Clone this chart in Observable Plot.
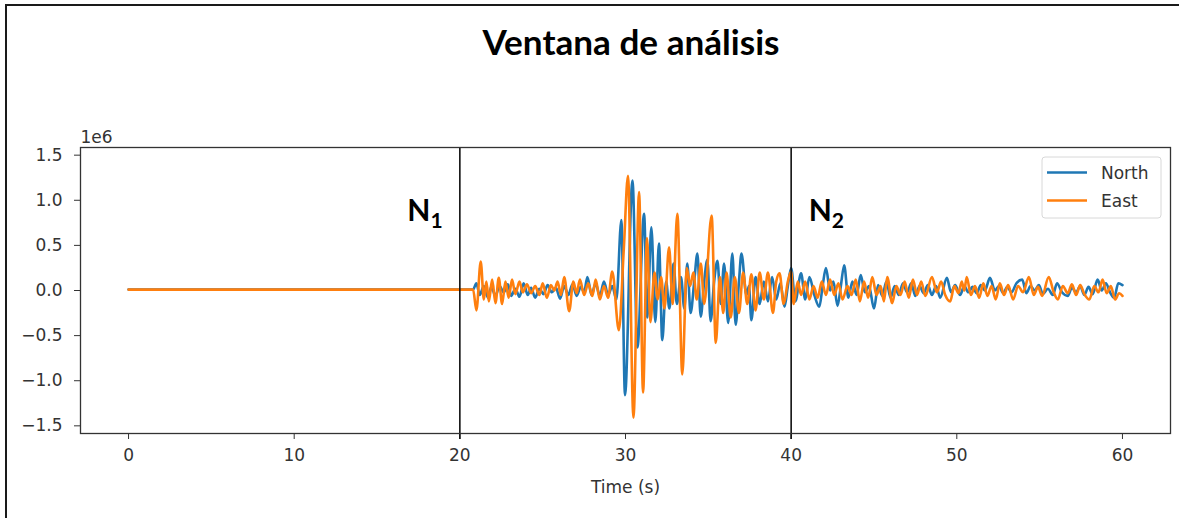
<!DOCTYPE html>
<html>
<head>
<meta charset="utf-8">
<script src="https://cdn.jsdelivr.net/npm/d3@7"></script>
<script src="https://cdn.jsdelivr.net/npm/@observablehq/plot@0.6"></script>
<style>
  html, body { margin: 0; padding: 0; background: #fff; overflow: hidden; }
  #page { position: relative; width: 1179px; height: 518px; overflow: hidden; background: #fff; }
  #border { position: absolute; left: 5px; top: 4px; width: 2000px; height: 2000px;
            border-left: 2.5px solid #1a1a1a; border-top: 2.5px solid #1a1a1a; }
  #chart { position: absolute; left: 0; top: 115px; }
  #overlay { position: absolute; left: 0; top: 0; pointer-events: none; }
</style>
</head>
<body>
<div id="page">
  <div id="border"></div>
  <div id="chart"></div>
  <svg id="overlay" width="1179" height="518"></svg>
</div>
<script>
// ---- data ----
const titleText = "Ventana de análisis";
const seriesNames = ["North", "East"];
const seriesColors = ["#1f77b4", "#ff7f0e"];
const windowBounds = [20, 40];
const windowLabels = ["1", "2"];
const xTicks = [0, 10, 20, 30, 40, 50, 60];
const yTicks = [-1.5, -1.0, -0.5, 0, 0.5, 1.0, 1.5];
const yExponent = "1e6";
const xLabel = "Time (s)";

const northT = [0, 20.8, 21.0, 21.2, 21.45, 21.7, 21.9, 22.15, 22.4, 22.65,
  22.9, 23.1, 23.35, 23.6, 23.85, 24.1, 24.3, 24.55, 24.8, 25.05,
  25.3, 25.55, 25.8, 26.05, 26.3, 26.55, 26.8, 27.05, 27.3, 27.5,
  27.7, 27.95, 28.2, 28.45, 28.7, 28.95, 29.2, 29.45, 29.75, 29.97,
  30.42, 30.72, 31.12, 31.32, 31.56, 31.8, 32.02, 32.22, 32.45, 32.65,
  32.9, 33.1, 33.35, 33.55, 33.73, 33.93, 34.15, 34.34, 34.54, 34.75,
  34.94, 35.14, 35.35, 35.55, 35.75, 35.95, 36.2, 36.45, 36.65, 36.85,
  37.0, 37.3, 37.45, 37.6, 37.85, 38.1, 38.35, 38.6, 38.85, 39.1,
  39.35, 39.6, 39.8, 40.0, 40.25, 40.6, 40.85, 41.1, 41.4, 41.7,
  41.9, 42.1, 42.35, 42.55, 42.8, 43.0, 43.2, 43.45, 43.7, 43.95,
  44.2, 44.45, 44.7, 45.0, 45.25, 45.5, 45.75, 46.0, 46.25, 46.5,
  46.75, 47.0, 47.25, 47.5, 47.75, 48.0, 48.25, 48.5, 48.75, 49.0,
  49.4, 49.65, 49.9, 50.2, 50.45, 50.7, 50.95, 51.2, 51.45, 51.7,
  52.0, 52.3, 52.55, 52.8, 53.05, 53.3, 53.6, 53.95, 54.2, 54.45,
  54.7, 54.95, 55.2, 55.5, 55.8, 56.05, 56.35, 56.7, 56.95, 57.2,
  57.45, 57.7, 57.95, 58.2, 58.5, 58.75, 59.0, 59.25, 59.5, 59.75,
  60.0];
const northV = [0.01, 0.01, 0.08, -0.05, 0.05, -0.08, 0.04, -0.06, 0.05, -0.02,
  0.07, -0.06, 0.02, -0.07, 0.08, -0.05, 0.03, -0.08, 0.02, -0.04,
  0.06, -0.02, 0.03, -0.09, 0.05, -0.05, 0.07, -0.06, 0.04, -0.02,
  0.15, -0.05, 0.08, -0.06, 0.10, -0.05, 0.05, -0.10, 0.78, -1.16,
  1.22, -0.63, 0.85, -0.30, 0.70, -0.35, 0.52, -0.55, 0.10, -0.20,
  0.30, -0.15, 0.15, -0.20, 0.30, -0.25, 0.10, 0.41, -0.29, 0.10,
  0.34, -0.34, 0.10, 0.33, -0.15, 0.30, -0.36, 0.41, -0.38, 0.10,
  0.41, -0.05, 0.05, -0.33, 0.15, -0.15, 0.10, -0.12, 0.15, -0.10,
  0.08, -0.18, 0.05, 0.25, -0.12, 0.19, -0.10, 0.15, -0.05, -0.18,
  0.05, 0.25, 0.00, 0.10, -0.17, 0.05, 0.28, -0.08, 0.10, -0.05,
  0.17, -0.02, 0.05, -0.20, 0.06, -0.06, 0.10, -0.08, 0.05, -0.05,
  0.08, -0.02, 0.08, -0.06, 0.05, -0.03, 0.06, -0.05, 0.05, -0.08,
  0.14, -0.02, 0.06, -0.05, 0.05, -0.02, 0.04, -0.03, 0.06, 0.00,
  0.14, 0.00, 0.05, -0.03, 0.04, -0.02, 0.08, 0.12, -0.03, 0.05,
  0.00, 0.06, -0.04, 0.02, -0.05, 0.08, -0.02, -0.06, 0.03, -0.02,
  0.05, -0.05, 0.04, -0.04, 0.12, 0.00, 0.08, -0.02, -0.08, 0.08,
  0.06];

const eastT = [0, 20.8, 21.0, 21.26, 21.45, 21.6, 21.75, 21.95, 22.15, 22.35,
  22.55, 22.75, 22.95, 23.15, 23.35, 23.6, 23.8, 24.05, 24.3, 24.55,
  24.8, 25.0, 25.25, 25.5, 25.7, 25.9, 26.1, 26.3, 26.6, 26.85,
  27.05, 27.25, 27.5, 27.75, 28.0, 28.2, 28.45, 28.7, 28.95, 29.2,
  29.6, 29.9, 30.15, 30.48, 30.82, 31.06, 31.3, 31.5, 31.75, 31.95,
  32.15, 32.35, 32.63, 32.85, 33.13, 33.43, 33.7, 33.9, 34.1, 34.3,
  34.55, 34.75, 35.2, 35.45, 35.7, 35.9, 36.1, 36.35, 36.6, 36.85,
  37.1, 37.35, 37.6, 37.85, 38.1, 38.35, 38.6, 38.9, 39.1, 39.3,
  39.55, 39.8, 40.0, 40.15, 40.4, 40.6, 40.85, 41.1, 41.35, 41.6,
  41.85, 42.1, 42.35, 42.6, 42.85, 43.1, 43.4, 43.65, 43.9, 44.15,
  44.4, 44.65, 44.9, 45.15, 45.4, 45.6, 45.8, 46.1, 46.35, 46.6,
  46.85, 47.1, 47.35, 47.6, 47.85, 48.1, 48.5, 48.8, 49.05, 49.3,
  49.6, 49.85, 50.1, 50.3, 50.45, 50.6, 50.85, 51.1, 51.35, 51.6,
  51.85, 52.1, 52.35, 52.6, 52.85, 53.1, 53.4, 53.7, 54.0, 54.35,
  54.65, 54.9, 55.15, 55.55, 55.85, 56.1, 56.4, 56.7, 56.95, 57.2,
  57.45, 57.7, 58.0, 58.3, 58.55, 58.8, 59.05, 59.3, 59.55, 59.8,
  60.0];
const eastV = [0.01, 0.01, -0.22, 0.32, -0.10, 0.10, -0.12, 0.12, -0.14, 0.14,
  -0.15, 0.10, -0.08, 0.12, -0.04, 0.10, -0.02, 0.07, -0.03, 0.05,
  -0.05, 0.08, -0.08, 0.06, 0.00, 0.10, -0.05, 0.15, -0.23, 0.10,
  -0.03, 0.12, -0.05, 0.08, -0.06, 0.12, -0.10, 0.05, -0.08, 0.21,
  -0.44, 0.47, 1.27, -1.41, 1.09, -1.13, 0.58, -0.35, 0.20, -0.10,
  0.15, -0.20, 0.48, -0.15, 0.85, -0.93, 0.25, 0.05, 0.20, -0.10,
  0.30, -0.15, 0.83, -0.58, 0.15, -0.25, 0.20, -0.30, 0.15, -0.25,
  0.20, -0.15, 0.18, -0.22, 0.20, -0.10, 0.20, -0.25, 0.10, 0.19,
  -0.15, 0.10, 0.21, -0.15, 0.10, -0.05, 0.10, -0.10, 0.05, -0.08,
  0.10, -0.05, 0.12, -0.05, 0.08, -0.10, 0.05, -0.05, 0.12, -0.12,
  0.10, -0.08, 0.15, -0.05, 0.05, -0.12, 0.15, -0.14, 0.05, -0.05,
  0.10, -0.08, 0.12, -0.05, 0.10, -0.06, 0.15, -0.02, 0.10, -0.05,
  -0.12, 0.05, -0.03, 0.10, 0.00, 0.15, -0.05, 0.05, -0.08, 0.08,
  -0.06, 0.05, -0.10, 0.08, -0.05, 0.06, -0.10, 0.05, -0.02, 0.15,
  -0.05, 0.04, -0.06, 0.15, -0.02, -0.10, 0.05, -0.03, 0.07, -0.05,
  0.06, -0.04, -0.10, 0.05, -0.02, 0.12, -0.03, 0.05, -0.10, -0.03,
  -0.06];

// ---- build table ----
const rows = [
  ...northT.map((t, i) => ({series: seriesNames[0], t, v: northV[i]})),
  ...eastT.map((t, i) => ({series: seriesNames[1], t, v: eastV[i]}))
];

const chart = Plot.plot({
  width: 1179,
  height: 403,
  marginLeft: 80,
  marginRight: 9,
  marginTop: 32,
  marginBottom: 85,
  style: {fontFamily: "'DejaVu Sans', sans-serif", fontSize: "17px", color: "#333", background: "transparent", overflow: "visible"},
  x: {domain: [-2.9, 62.9], ticks: xTicks, tickSize: 6, tickPadding: 9, tickFormat: d3.format("d"),
      label: xLabel, labelAnchor: "center", labelOffset: 59, labelArrow: "none"},
  y: {domain: [-1.585, 1.585], ticks: yTicks, tickSize: 6, tickPadding: 12, tickFormat: d3.format(".1f"), label: null},
  color: {domain: seriesNames, range: seriesColors},
  marks: [
    Plot.line(rows, {x: "t", y: "v", z: "series", stroke: "series", strokeWidth: 2.6, curve: "monotone-x"}),
    Plot.ruleX(windowBounds, {stroke: "#111", strokeWidth: 1.6, insetBottom: -6}),
    Plot.frame({stroke: "#333", strokeWidth: 1.3}),
    Plot.text([yExponent], {frameAnchor: "top-left", textAnchor: "start", lineAnchor: "bottom", dy: -5, fill: "#333"})
  ]
});
document.getElementById("chart").appendChild(chart);

// ---- annotations overlay: title, N labels, legend ----
const ns = "http://www.w3.org/2000/svg";
const ov = document.getElementById("overlay");
function el(name, attrs, parent) {
  const e = document.createElementNS(ns, name);
  for (const k in attrs) e.setAttribute(k, attrs[k]);
  (parent || ov).appendChild(e);
  return e;
}
const title = el("text", {x: 631, y: 55, "text-anchor": "middle", "font-family": "Lato, 'Open Sans', sans-serif",
  "font-weight": "bold", "font-size": 34, fill: "#000", textLength: 297, lengthAdjust: "spacingAndGlyphs"});
title.textContent = titleText;

// N labels placed next to the window bounds using the chart's x scale
const xs = chart.scale("x");
windowBounds.forEach((b, i) => {
  const px = xs.apply(b);
  const x0 = i === 0 ? px - 52 : px + 18;
  const t = el("text", {x: x0, y: 221, "font-family": "Lato, 'Open Sans', sans-serif", "font-weight": "bold",
    "font-size": 30, fill: "#000"});
  const t1 = el("tspan", {}, t); t1.textContent = "N";
  const t2 = el("tspan", {dy: 7, "font-size": 21}, t); t2.textContent = windowLabels[i];
});

// legend
const lg = el("g", {transform: "translate(1042,157)"});
el("rect", {x: 0, y: 0, width: 119, height: 61, rx: 3, fill: "#fff", "fill-opacity": 0.85, stroke: "#d8d8d8", "stroke-width": 1}, lg);
seriesNames.forEach((name, i) => {
  const cy = 15.5 + i * 28;
  el("line", {x1: 5, x2: 45, y1: cy, y2: cy, stroke: seriesColors[i], "stroke-width": 2.4}, lg);
  const tx = el("text", {x: 59, y: cy + 6, "font-family": "'DejaVu Sans', sans-serif", "font-size": 17, fill: "#333"}, lg);
  tx.textContent = name;
});
</script>
</body>
</html>
